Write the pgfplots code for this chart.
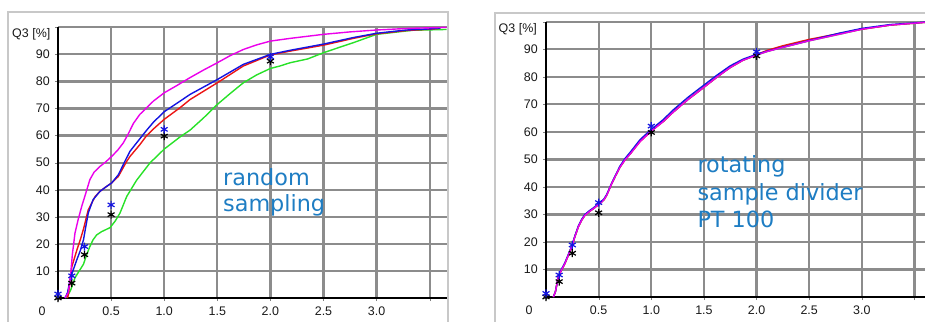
\documentclass[border=0pt]{standalone}
\usepackage{fontspec}
\setmainfont{Liberation Sans}
\newfontfamily\dv{DejaVu Sans}
\usepackage{pgfplots}
\pgfplotsset{compat=1.18}
\definecolor{txtblue}{RGB}{30,125,195}
\definecolor{framegray}{RGB}{200,200,200}
\definecolor{gridgray}{RGB}{140,140,140}
\definecolor{mag}{RGB}{235,0,235}
\definecolor{myred}{RGB}{235,20,20}
\definecolor{myblue}{RGB}{20,20,225}
\definecolor{mygreen}{RGB}{40,225,40}
\pgfplotsset{q3/.style={
  scale only axis, axis lines=left, axis line style={black, line width=1.5bp, -},
  xmin=0, ymin=0, ymax=100,
  xtick={0,0.5,...,3.5}, xticklabels={,0.5,1.0,1.5,2.0,2.5,3.0,},
  ytick={0,10,...,100}, yticklabels={,10,20,30,40,50,60,70,80,90,},
  grid=major, major grid style={draw=gridgray, line width=2.2bp},
  tick align=outside, major tick length=3bp,
  ticklabel style={font=\fontsize{12.5}{12.5}\selectfont, text=black!90, inner sep=0pt},
  xticklabel style={anchor=north, yshift=-6bp},
  yticklabel style={anchor=east, xshift=-5bp},
  /pgf/number format/assume math mode=true,
  clip=false,
  every axis plot/.append style={line width=1.4bp, mark=none},
}}
\begin{document}
\begin{tikzpicture}[x=1bp,y=1bp]
\useasboundingbox (0,0) rectangle (925,321);
\draw[framegray, line width=2bp] (8.3,-5) -- (8.3,309.3) -- (448.3,309.3) -- (448.3,-5);
\draw[framegray, line width=2bp] (495,-5) -- (495,308.3) -- (935,308.3);
% grid (decoration only)
\foreach \i in {1,...,7} \draw[gridgray, line width=2.2bp] ({58+53.1*\i},23) -- ({58+53.1*\i},293.7);
\foreach \j in {1,...,10} \draw[gridgray, line width=2.2bp] (58,{23+27.07*\j}) -- (447,{23+27.07*\j});
\foreach \i in {1,...,7} \draw[gridgray, line width=2.2bp] ({546+52.64*\i},24) -- ({546+52.64*\i},299.2);
\foreach \j in {1,...,10} \draw[gridgray, line width=2.2bp] (546,{24+27.52*\j}) -- (925,{24+27.52*\j});
% ---------------- left panel
\begin{axis}[q3, at={(58bp,23bp)}, anchor=south west, width=389bp, height=270.7bp, xmax=3.663]
\addplot[mygreen] coordinates {(0.08,0) (0.12,3) (0.16,7.5) (0.2,10) (0.24,12.5) (0.27,16) (0.30,19) (0.33,21.5) (0.364,23.3) (0.41,24.5) (0.49,26) (0.54,28.5) (0.584,31.4) (0.647,37.5) (0.74,43.5) (0.866,49.9) (1.0,55) (1.149,59.5) (1.243,62) (1.37,66.5) (1.5,71.5) (1.62,75.5) (1.745,79.5) (1.87,82.4) (2.0,84.8) (2.09,85.7) (2.185,86.9) (2.35,88.3) (2.5,90.6) (2.65,92.6) (2.78,94.3) (2.9,96) (3.0,97.4) (3.34,98.9) (3.66,99.2)};
\addplot[myred] coordinates {(0.09,0) (0.10,2) (0.11,5) (0.13,11.5) (0.176,17.5) (0.21,21.5) (0.24,25.5) (0.285,32.6) (0.35,37.5) (0.395,39.4) (0.45,41) (0.505,42.5) (0.568,44.9) (0.647,50.5) (0.678,52.3) (0.772,56.7) (0.835,60) (0.9,62.5) (1.0,66) (1.149,70.3) (1.243,73.3) (1.5,79.5) (1.745,85.7) (2.0,89.8) (2.185,91.2) (2.5,93.4) (2.78,95.9) (3.0,97.6) (3.28,98.8) (3.5,99.3) (3.6,99.6)};
\addplot[myblue] coordinates {(0.066,0) (0.09,2) (0.113,6.7) (0.14,10) (0.176,14) (0.21,17.5) (0.24,21.5) (0.26,26) (0.285,31.4) (0.33,36.3) (0.395,39.4) (0.45,41) (0.505,42.5) (0.568,45.5) (0.63,50.5) (0.678,54.2) (0.74,57.3) (0.835,62) (0.9,65) (1.0,68.8) (1.149,72.7) (1.243,75.2) (1.5,80.7) (1.745,86.3) (2.0,90) (2.185,91.5) (2.5,93.8) (2.78,96.2) (3.0,97.8) (3.28,99) (3.5,99.4) (3.6,99.7)};
\addplot[mag] coordinates {(0.066,0) (0.097,2) (0.12,9) (0.135,16) (0.16,24) (0.19,29) (0.223,33.8) (0.26,38.5) (0.30,43.7) (0.34,46.5) (0.395,48.6) (0.45,50.3) (0.505,52.3) (0.56,54.5) (0.615,57.3) (0.66,60.5) (0.71,64.5) (0.77,67.8) (0.835,70.3) (0.9,72.8) (1.0,75.8) (1.12,78.5) (1.243,81.4) (1.37,84.2) (1.5,86.9) (1.62,89.5) (1.745,91.8) (1.87,93.5) (2.0,94.9) (2.185,95.9) (2.5,97.4) (2.75,98.3) (3.0,99) (3.3,99.6) (3.66,100)};
\addplot[only marks, mark=asterisk, mark size=4bp, black, line width=1.2bp] coordinates {(0,0) (0.13,5.5) (0.25,16) (0.5,30.8) (1.0,59.8) (2.0,87.5)};
\addplot[only marks, mark=asterisk, mark size=4bp, myblue, line width=1.2bp] coordinates {(0,1.5) (0.13,8.2) (0.25,19) (0.5,34.4) (1.0,62.3) (2.0,89.1)};
\end{axis}
% ---------------- right panel
\begin{axis}[q3, at={(546bp,24bp)}, anchor=south west, width=379bp, height=275.2bp, xmax=3.6]
\addplot[mygreen] coordinates {(0.07,0) (0.09,2) (0.117,7.4) (0.15,10) (0.18,12.2) (0.21,15) (0.244,18.2) (0.275,22) (0.307,25.5) (0.34,28) (0.37,29.7) (0.41,31) (0.45,32.1) (0.513,34) (0.55,35.3) (0.577,37) (0.624,41.2) (0.66,44) (0.703,47.2) (0.75,49.8) (0.8,52) (0.894,56.8) (1.0,60.5) (1.115,63.8) (1.206,67.1) (1.35,71.8) (1.5,76.2) (1.62,79.8) (1.75,83.4) (1.87,86) (2.0,87.9) (2.1,89.2) (2.25,90.7) (2.5,93.1) (2.79,95.5) (3.0,97.3) (3.27,98.8) (3.5,99.5) (3.6,99.8)};
\addplot[myred] coordinates {(0.07,0) (0.09,2) (0.117,7.4) (0.15,10) (0.18,12.2) (0.21,15) (0.244,18.2) (0.275,22) (0.307,25.5) (0.34,28) (0.37,29.7) (0.41,31) (0.45,32.1) (0.513,34) (0.55,35.3) (0.577,37) (0.624,41.2) (0.66,44) (0.703,47.2) (0.75,49.8) (0.8,52) (0.894,56.5) (1.0,60.3) (1.115,63.8) (1.206,67.1) (1.35,71.8) (1.5,76.2) (1.62,79.8) (1.75,83.4) (1.87,86) (2.0,88.1) (2.1,89.6) (2.25,91.3) (2.5,93.6) (2.79,95.8) (3.0,97.3) (3.27,98.8) (3.5,99.5) (3.6,99.8)};
\addplot[myblue] coordinates {(0.07,0) (0.09,2) (0.117,7.6) (0.15,10.3) (0.18,12.5) (0.21,15.3) (0.244,18.5) (0.275,22.3) (0.307,25.8) (0.34,28.3) (0.37,30) (0.41,31.3) (0.45,32.4) (0.513,34.3) (0.55,35.6) (0.577,37.3) (0.624,41.4) (0.66,44.3) (0.703,47.6) (0.75,50.3) (0.8,52.6) (0.894,57.2) (1.0,60.9) (1.115,64.5) (1.206,67.9) (1.35,72.6) (1.5,77) (1.62,80.5) (1.75,84) (1.87,86.4) (2.0,88.2) (2.1,89.3) (2.25,90.8) (2.5,93.2) (2.79,95.9) (3.0,97.6) (3.27,99) (3.5,99.6) (3.6,99.9)};
\addplot[mag] coordinates {(0.07,0) (0.09,2) (0.117,7.4) (0.15,10) (0.18,12.2) (0.21,15) (0.244,18.2) (0.275,22) (0.307,25.5) (0.34,28) (0.37,29.7) (0.41,31) (0.45,32.1) (0.513,34) (0.55,35.3) (0.577,37) (0.624,41.2) (0.66,44) (0.703,47.2) (0.75,49.8) (0.8,52) (0.894,56.5) (1.0,60.3) (1.115,63.8) (1.206,67.1) (1.35,71.8) (1.5,76.2) (1.62,79.8) (1.75,83.4) (1.87,86) (2.0,87.9) (2.1,89.2) (2.25,90.7) (2.5,93.1) (2.79,95.5) (3.0,97.3) (3.27,98.8) (3.5,99.5) (3.6,99.8)};
\addplot[only marks, mark=asterisk, mark size=4bp, black, line width=1.2bp] coordinates {(0,0) (0.125,5.6) (0.25,15.9) (0.5,30.6) (1.0,59.8) (2.0,87.6)};
\addplot[only marks, mark=asterisk, mark size=4bp, myblue, line width=1.2bp] coordinates {(0,1.3) (0.125,8) (0.25,18.9) (0.5,34.3) (1.0,62.1) (2.0,89.1)};
\end{axis}
% ---------------- texts
\begin{scope}[every node/.style={inner sep=0pt, font=\fontsize{12.5}{12.5}\selectfont, text=black!90}]
\node at (42,10) {0};
\node at (529,11) {0};
\node[anchor=east] at (50.5,287) {Q3 [\%]};
\node[anchor=east] at (537,292) {Q3 [\%]};
\end{scope}
\begin{scope}[every node/.style={inner sep=0pt, anchor=base west, text=txtblue, font=\dv\fontsize{22.4}{27}\selectfont}]
\node at (223,136) {random};
\node at (223,109.3) {sampling};
\node at (697.3,148.3) {rotating};
\node at (697.3,121) {sample divider};
\node at (697.3,93.7) {PT 100};
\end{scope}
\end{tikzpicture}
\end{document}
